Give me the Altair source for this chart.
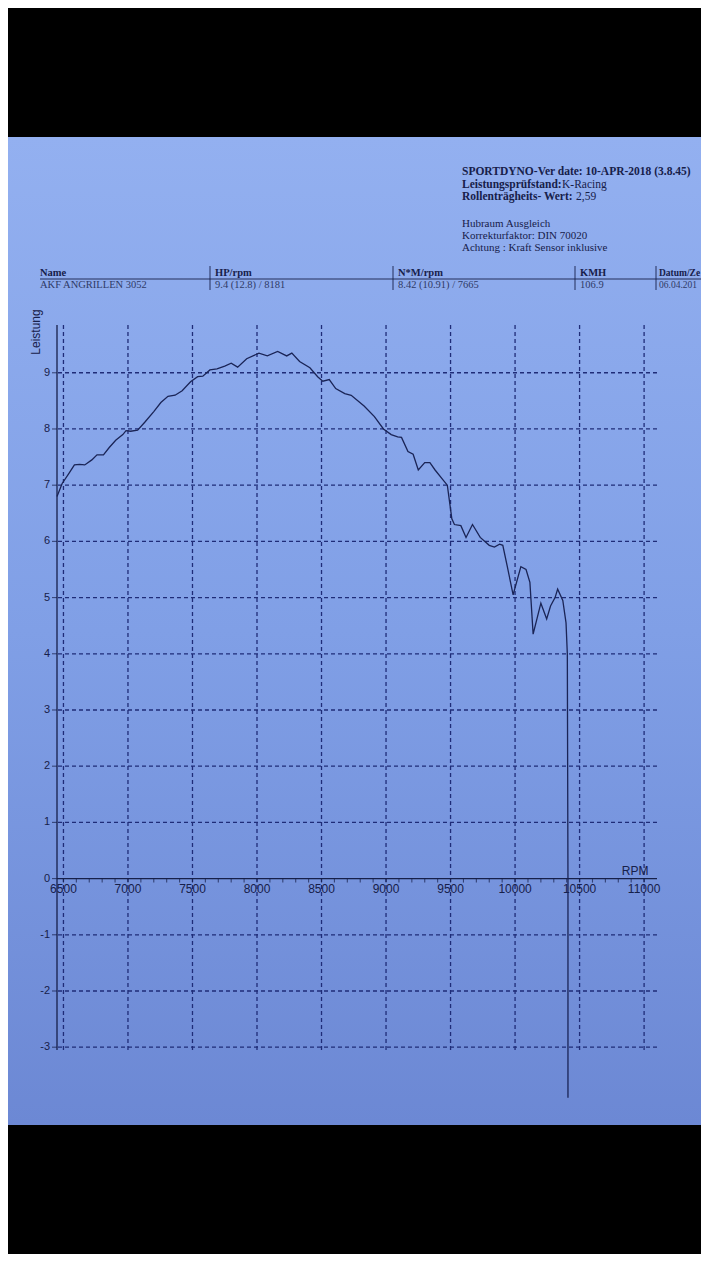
import altair as alt
import pandas as pd

# ---------------- data ----------------
RPM = [6450, 6490, 6540, 6585, 6625, 6665, 6720, 6760, 6810, 6855, 6905, 6960,
       6985, 7020, 7075, 7130, 7200, 7255, 7310, 7365, 7420, 7485, 7540, 7580,
       7635, 7690, 7750, 7800, 7850, 7920, 8015, 8080, 8160, 8230, 8270, 8330,
       8410, 8470, 8510, 8560, 8610, 8680, 8730, 8830, 8910, 8980, 9040, 9090,
       9120, 9170, 9210, 9250, 9300, 9340, 9380, 9440, 9475, 9510, 9530, 9580,
       9620, 9670, 9730, 9800, 9840, 9880, 9905, 9940, 9985, 10045, 10085, 10115,
       10140, 10200, 10245, 10275, 10310, 10330, 10370, 10395, 10405, 10410, 10410]
LEISTUNG = [6.80, 7.03, 7.20, 7.36, 7.37, 7.36, 7.45, 7.54, 7.54, 7.67, 7.80, 7.90,
            7.97, 7.96, 7.98, 8.12, 8.31, 8.47, 8.58, 8.60, 8.68, 8.84, 8.93, 8.94,
            9.05, 9.07, 9.12, 9.17, 9.10, 9.25, 9.35, 9.30, 9.38, 9.30, 9.35, 9.20,
            9.09, 8.93, 8.85, 8.88, 8.72, 8.63, 8.60, 8.41, 8.22, 8.00, 7.90, 7.86,
            7.85, 7.60, 7.55, 7.27, 7.40, 7.40, 7.27, 7.10, 7.00, 6.40, 6.30, 6.28,
            6.07, 6.30, 6.07, 5.93, 5.90, 5.95, 5.93, 5.55, 5.05, 5.55, 5.50, 5.27,
            4.35, 4.90, 4.62, 4.85, 5.00, 5.15, 4.95, 4.55, 4.00, 0.00, -3.90]

Y_TICKS = [-3, -2, -1, 0, 1, 2, 3, 4, 5, 6, 7, 8, 9]
Y_GRID = [-3, -2, -1, 1, 2, 3, 4, 5, 6, 7, 8, 9]
X_MAJOR = [6500, 7000, 7500, 8000, 8500, 9000, 9500, 10000, 10500, 11000]
X_MINOR = list(range(6500, 11001, 100))
X_DOMAIN = [6450, 11100]
Y_DOMAIN = [-3.05, 9.85]

HEADER_BOLD = ["SPORTDYNO-Ver date: 10-APR-2018 (3.8.45)",
               "Leistungsprüfstand:", "Rollenträgheits- Wert:"]
HEADER_VALUE = ["K-Racing", "2,59"]
HEADER_NOTES = ["Hubraum Ausgleich", "Korrekturfaktor: DIN 70020",
                "Achtung : Kraft Sensor inklusive"]
# the last column is cut by the photo's edge: only its visible part is shown
TABLE_HEADERS = ["Name", "HP/rpm", "N*M/rpm", "KMH", "Datum/Ze"]
TABLE_VALUES = ["AKF ANGRILLEN 3052", "9.4 (12.8) / 8181",
                "8.42 (10.91) / 7665", "106.9", "06.04.201"]
Y_TITLE = "Leistung"
X_TITLE = "RPM"

# ---------------- styles ----------------
SERIF = "Liberation Serif"
SANS = "Liberation Sans"
INK = "#17204a"
GREY_INK = "#2f3a66"
GRID = "#1f2c78"
CURVE = "#1a2456"

W, H = 600, 725
xs = alt.Scale(domain=X_DOMAIN, nice=False, zero=False)
ys = alt.Scale(domain=Y_DOMAIN, nice=False, zero=False)
one = alt.Data(values=[{}])


def txt(s, x, y, size, weight="normal", font=SERIF, color=INK,
        align="left", baseline="alphabetic", angle=None):
    kw = dict(text=s, fontSize=size, fontWeight=weight, font=font,
              color=color, align=align, baseline=baseline)
    if angle is not None:
        kw["angle"] = angle
    return alt.Chart(one).mark_text(**kw).encode(x=alt.value(x), y=alt.value(y))


def hline(x1, x2, y, color=INK, width=1.0):
    return alt.Chart(one).mark_rule(color=color, strokeWidth=width).encode(
        x=alt.value(x1), x2=alt.value(x2), y=alt.value(y))


def vline(x, y1, y2, color=INK, width=1.0):
    return alt.Chart(one).mark_rule(color=color, strokeWidth=width).encode(
        x=alt.value(x), y=alt.value(y1), y2=alt.value(y2))


paper = alt.Chart(one).mark_rect(
    fill=alt.Gradient(gradient="linear",
                      stops=[alt.GradientStop(color="#93b0f0", offset=0),
                             alt.GradientStop(color="#809fe6", offset=0.5),
                             alt.GradientStop(color="#6c88d4", offset=1)],
                      x1=0, x2=0, y1=0, y2=1)
).encode(x=alt.value(-49), x2=alt.value(644), y=alt.value(-188), y2=alt.value(800))

layers = [paper]

# header block
hx = 405
layers.append(txt(HEADER_BOLD[0], hx, -150, 11.5, "bold"))
layers.append(txt(HEADER_BOLD[1], hx, -137, 11.5, "bold"))
layers.append(txt(HEADER_VALUE[0], hx + 100, -137, 11.5))
layers.append(txt(HEADER_BOLD[2], hx, -125, 11.5, "bold"))
layers.append(txt(HEADER_VALUE[1], hx + 114, -125, 11.5))
for i, s in enumerate(HEADER_NOTES):
    layers.append(txt(s, hx, -98 + 12 * i, 11))

# table
col_x = [-17, 158, 341, 523, 602]
for i, (h, v) in enumerate(zip(TABLE_HEADERS, TABLE_VALUES)):
    size = 10.5 if i < 4 else 9.5
    layers.append(txt(h, col_x[i], -49, size, "bold"))
    layers.append(txt(v, col_x[i], -37, size, color=GREY_INK))
layers.append(hline(-17, 644, -46, width=0.9))
for sx in [153, 336, 518, 599]:
    layers.append(vline(sx, -59, -35, width=0.9))

# grid
xgrid = alt.Chart(pd.DataFrame({"g": X_MAJOR})).mark_rule(
    color=GRID, strokeDash=[4, 3], strokeWidth=1.3).encode(
    x=alt.X("g:Q", scale=xs, axis=None))
ygrid = alt.Chart(pd.DataFrame({"g": Y_GRID})).mark_rule(
    color=GRID, strokeDash=[4, 3], strokeWidth=1.3).encode(
    y=alt.Y("g:Q", scale=ys, axis=None))
layers += [xgrid, ygrid]

# y axis (drawn at the left end of the rpm scale)
yaxis = alt.Chart(one).mark_rule(color=INK, strokeWidth=1.3).encode(
    x=alt.X(datum=X_DOMAIN[0], scale=xs, axis=None))
ytick_df = pd.DataFrame({"v": Y_TICKS, "lab": [str(v) for v in Y_TICKS]})
yticks = alt.Chart(ytick_df).mark_tick(
    orient="horizontal", size=5, thickness=1.1, color=INK, xOffset=-2.5).encode(
    x=alt.X(datum=X_DOMAIN[0], scale=xs, axis=None),
    y=alt.Y("v:Q", scale=ys, axis=None))
ylabels = alt.Chart(ytick_df).mark_text(
    align="right", baseline="middle", dx=-7, font=SANS, fontSize=11, color=INK).encode(
    x=alt.X(datum=X_DOMAIN[0], scale=xs, axis=None),
    y=alt.Y("v:Q", scale=ys, axis=None), text="lab:N")
layers += [yaxis, yticks, ylabels]
layers.append(txt(Y_TITLE, -21, 7, 12, font=SANS, align="center",
                  baseline="middle", angle=270))

# x axis at zero
xaxis = alt.Chart(one).mark_rule(color=INK, strokeWidth=1.3).encode(
    y=alt.Y(datum=0, scale=ys, axis=None))
xticks = alt.Chart(pd.DataFrame({"v": X_MINOR})).mark_tick(
    orient="vertical", size=4, thickness=1.1, color=INK, yOffset=2).encode(
    x=alt.X("v:Q", scale=xs, axis=None), y=alt.Y(datum=0, scale=ys, axis=None))
xlab_df = pd.DataFrame({"v": X_MAJOR, "lab": [str(v) for v in X_MAJOR]})
xlabels = alt.Chart(xlab_df).mark_text(
    baseline="top", dy=5, font=SANS, fontSize=12, color=INK).encode(
    x=alt.X("v:Q", scale=xs, axis=None), y=alt.Y(datum=0, scale=ys, axis=None),
    text="lab:N")
rpm_title = alt.Chart(one).mark_text(
    text=X_TITLE, baseline="bottom", dy=-1, font=SANS, fontSize=12, color=INK).encode(
    x=alt.X(datum=10930, scale=xs, axis=None), y=alt.Y(datum=0, scale=ys, axis=None))
layers += [xaxis, xticks, xlabels, rpm_title]

# power curve
curve_df = pd.DataFrame({"rpm": RPM, "leistung": LEISTUNG, "i": list(range(len(RPM)))})
curve = alt.Chart(curve_df).mark_line(color=CURVE, strokeWidth=1.3).encode(
    x=alt.X("rpm:Q", scale=xs, axis=None),
    y=alt.Y("leistung:Q", scale=ys, axis=None),
    order="i:Q")
layers.append(curve)

chart = alt.layer(*layers).properties(
    width=W, height=H,
    autosize=alt.AutoSizeParams(type="none"),
    padding={"left": 49, "top": 317, "right": 44, "bottom": 204},
).configure(background="black").configure_view(stroke=None)

chart.save("out.html", embed_options={"renderer": "svg", "actions": False})
